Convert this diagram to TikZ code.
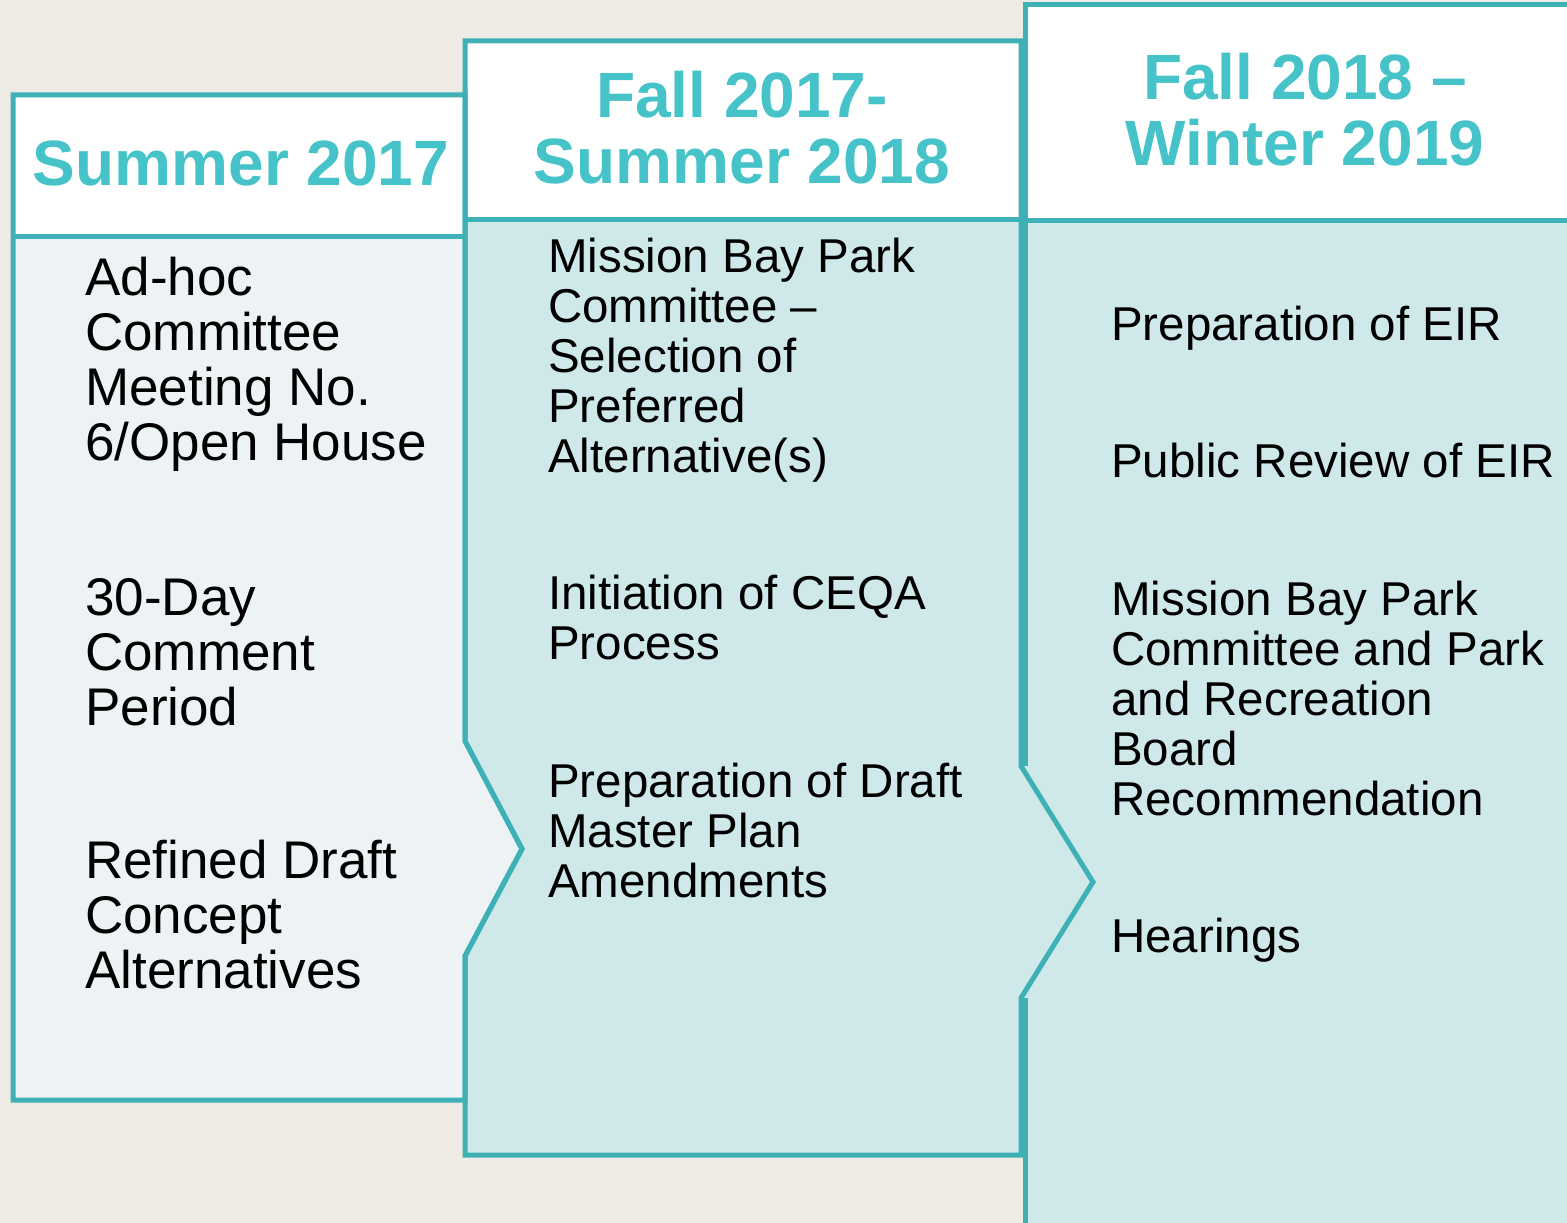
\documentclass[tikz,border=0pt]{standalone}
\usepackage{fontspec}
\setmainfont{Liberation Sans}
\definecolor{tealline}{HTML}{3DB1B5}
\definecolor{tealtext}{HTML}{45C3C8}
\definecolor{paleblue}{HTML}{EDF3F5}
\definecolor{palecyan}{HTML}{CFE8EA}
\definecolor{sandbg}{HTML}{EEEBE4}

\begin{document}
\begin{tikzpicture}[
    x=1pt, y=-1pt,
    frame/.style={draw=tealline, line width=5pt},
    heading/.style={font=\fontsize{64}{66}\selectfont\bfseries, text=tealtext, align=center, inner sep=0pt},
    item/.style={font=\fontsize{47.5}{50}\selectfont, align=left, anchor=base west, inner sep=0pt},
    bigitem/.style={item, font=\fontsize{53}{55}\selectfont}
]

\path[use as bounding box, clip] (0,0) rectangle (1567,1223);
\fill[sandbg] (0,0) rectangle (1567,1223);

% fills of the three columns
\fill[paleblue] (13,95) -- (465,95) -- (465,741) -- (522,849) -- (465,956) -- (465,1100) -- (13,1100) -- cycle;
\fill[palecyan] (465,41) -- (1021,41) -- (1021,766) -- (1093,882) -- (1021,998) -- (1021,1155) -- (465,1155) -- (465,956) -- (522,849) -- (465,741) -- cycle;
\fill[palecyan] (1025,5) -- (1600,5) -- (1600,1260) -- (1025,1260) -- (1025,998) -- (1021,998) -- (1093,882) -- (1021,766) -- (1025,766) -- cycle;
\fill[white] (13,95) rectangle (465,236);
\fill[white] (465,41) rectangle (1021,219);
\fill[white] (1025,5) rectangle (1600,220);

% Summer 2017 column
\draw[frame] (13,95) -- (465,95) -- (465,741) -- (522,849) -- (465,956) -- (465,1100) -- (13,1100) -- cycle;
\draw[frame] (13,236) -- (465,236);

% Fall 2017 - Summer 2018 column
\draw[frame] (465,41) -- (1021,41) -- (1021,766) -- (1093,882) -- (1021,998) -- (1021,1155) -- (465,1155) -- (465,956) -- (522,849) -- (465,741) -- cycle;
\draw[frame] (465,219) -- (1021,219);

% Fall 2018 - Winter 2019 column
\draw[frame] (1025,766) -- (1025,5) -- (1600,5) -- (1600,1260) -- (1025,1260) -- (1025,998);
\draw[frame] (1025,220) -- (1600,220);

% headings
\node[heading] (summer) at (241,163) {Summer 2017};
\node[heading] (fall17) at (742,128) {Fall 2017-\\Summer 2018};
\node[heading] (fall18) at (1305,110) {Fall 2018 --\\Winter 2019};

% items (anchored at the baseline of their last line)
\node[bigitem] (adhoc) at (85,460) {Ad-hoc\\Committee\\Meeting No.\\6/Open House};
\node[bigitem] (comment) at (85,725) {30-Day\\Comment\\Period};
\node[bigitem] (refined) at (85,988) {Refined Draft\\Concept\\Alternatives};

\node[item] (selection) at (548,472) {Mission Bay Park\\Committee --\\Selection of\\Preferred\\Alternative(s)};
\node[item] (ceqa) at (548,659) {Initiation of CEQA\\Process};
\node[item] (draftplan) at (548,897) {Preparation of Draft\\Master Plan\\Amendments};

\node[item] (prepeir) at (1111,340) {Preparation of EIR};
\node[item] (revieweir) at (1111,477) {Public Review of EIR};
\node[item] (board) at (1111,815) {Mission Bay Park\\Committee and Park\\and Recreation\\Board\\Recommendation};
\node[item] (hearings) at (1111,952) {Hearings};

\end{tikzpicture}
\end{document}
